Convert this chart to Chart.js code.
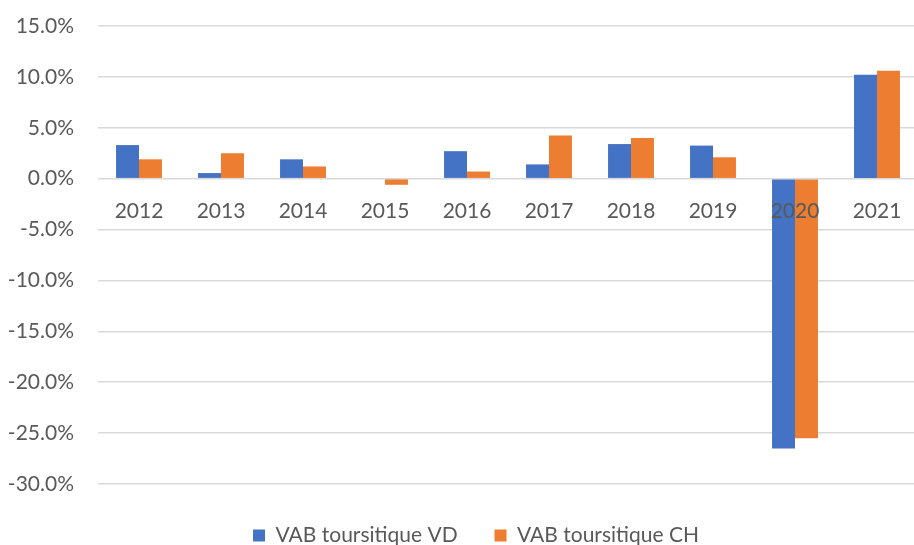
<!DOCTYPE html>
<html>
<head>
<meta charset="utf-8">
<script src="https://cdn.jsdelivr.net/npm/chart.js@4"></script>
<style>
  html, body { margin: 0; padding: 0; background: #fff; overflow: hidden; }
  #wrap { width: 920px; height: 545px; }
</style>
</head>
<body>
<div id="wrap"><canvas id="vabChart" width="920" height="545"></canvas></div>
<script>
// ===== DATA =====
const years = ['2012', '2013', '2014', '2015', '2016', '2017', '2018', '2019', '2020', '2021'];
const vabVD = [3.3, 0.55, 1.9, 0.0, 2.7, 1.4, 3.4, 3.25, -26.5, 10.2];
const vabCH = [1.9, 2.5, 1.2, -0.6, 0.7, 4.25, 4.0, 2.1, -25.5, 10.6];
const yTicks = [15, 10, 5, 0, -5, -10, -15, -20, -25, -30];

const textColor = '#595959';
const fontFamily = "Lato, 'Open Sans', sans-serif";

// put the legend where the original has it (bottom, slightly right of centre)
const legendPlace = {
  id: 'legendPlace',
  afterLayout: (chart) => {
    const lg = chart.legend;
    if (!lg) return;
    const h = lg.bottom - lg.top;
    lg.left += 17;
    lg.right += 17;
    lg.top = 515;
    lg.bottom = lg.top + h;
  }
};

// ===== CHART =====
new Chart(document.getElementById('vabChart'), {
  type: 'bar',
  data: {
    labels: years,
    datasets: [
      {
        label: 'VAB toursitique VD',
        data: vabVD,
        backgroundColor: '#4472C4',
        borderWidth: 0
      },
      {
        label: 'VAB toursitique CH',
        data: vabCH,
        backgroundColor: '#ED7D31',
        borderWidth: 0
      }
    ]
  },
  options: {
    responsive: false,
    animation: false,
    layout: {
      padding: { left: 0, right: 2, top: 26, bottom: 20 }
    },
    datasets: {
      bar: { barPercentage: 1, categoryPercentage: 0.56 }
    },
    scales: {
      x: {
        position: { y: 0 },
        afterFit: (scale) => { scale.height = 0; },
        grid: { display: false },
        border: { display: false },
        ticks: {
          z: 1,
          color: textColor,
          padding: 12,
          font: { family: fontFamily, size: 21 }
        }
      },
      y: {
        min: Math.min(...yTicks),
        max: Math.max(...yTicks),
        afterFit: (scale) => {
          scale.width = 98;
          scale.paddingTop = 0;
          scale.paddingBottom = 0;
        },
        afterBuildTicks: (scale) => { scale.ticks = yTicks.map(v => ({ value: v })); },
        grid: { color: '#D9D9D9', lineWidth: 1.5, drawTicks: false },
        border: { display: false },
        ticks: {
          color: textColor,
          padding: 24,
          font: { family: fontFamily, size: 21 },
          callback: (v) => v.toFixed(1) + '%'
        }
      }
    },
    plugins: {
      tooltip: { enabled: false },
      legend: {
        position: 'bottom',
        labels: {
          color: textColor,
          boxWidth: 12,
          boxHeight: 12,
          padding: 10,
          font: { family: fontFamily, size: 21 },
          generateLabels: (chart) => Chart.defaults.plugins.legend.labels.generateLabels(chart)
            .map((l, i) => (i === 0 ? { ...l, text: l.text + '     ' } : l))
        }
      }
    }
  },
  plugins: [legendPlace]
});
</script>
</body>
</html>
